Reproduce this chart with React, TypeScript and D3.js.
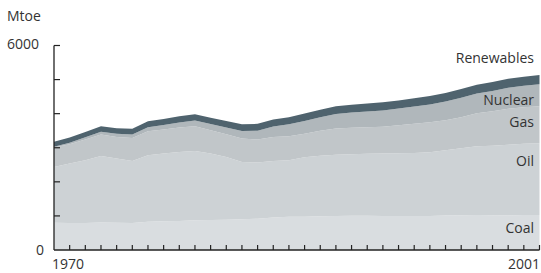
import React from "react";
import * as d3 from "d3";

const years = d3.range(1970, 2002);
const coal = [800, 795, 790, 805, 800, 795, 830, 840, 850, 870, 880, 890, 900, 920, 950, 975, 975, 990, 1000, 1005, 1005, 1000, 995, 995, 1000, 1010, 1020, 1025, 1020, 1010, 1030, 1025];
const oil = [1638, 1742, 1844, 1955, 1884, 1818, 1950, 1990, 2027, 2036, 1950, 1840, 1684, 1647, 1663, 1659, 1747, 1776, 1795, 1805, 1819, 1830, 1844, 1853, 1868, 1917, 1965, 2019, 2038, 2078, 2087, 2106];
const gas = [568, 565, 606, 626, 632, 674, 703, 702, 714, 723, 682, 665, 685, 673, 703, 702, 690, 730, 770, 775, 776, 784, 819, 854, 878, 878, 907, 965, 1010, 1053, 1068, 1083];
const nuclear = [20, 43, 65, 82, 94, 105, 121, 137, 153, 169, 185, 200, 226, 261, 306, 350, 375, 400, 425, 450, 465, 482, 490, 507, 524, 550, 577, 585, 600, 617, 634, 650];
const renewables = [150, 155, 160, 162, 164, 165, 170, 174, 178, 182, 185, 190, 195, 200, 205, 210, 215, 220, 225, 230, 235, 238, 241, 244, 247, 250, 253, 255, 260, 263, 266, 270];

const seriesNames = ["Coal", "Oil", "Gas", "Nuclear", "Renewables"];
const seriesValues = [coal, oil, gas, nuclear, renewables];
const colors = ["#d9dde0", "#cdd2d5", "#c1c6c9", "#b0b7bb", "#4f636e"];
const yTicks = [0, 1000, 2000, 3000, 4000, 5000, 6000];
const labelY = [233, 166, 127, 105, 63];

export default function App() {
  const W = 541, H = 273;
  const x = d3.scaleLinear().domain([1970, 2001]).range([54, 539.5]);
  const y = d3.scaleLinear().domain([0, 6000]).range([250, 45.5]);

  const rows = years.map((yr, i) => {
    const r: any = { year: yr };
    seriesNames.forEach((n, j) => (r[n] = seriesValues[j][i]));
    return r;
  });
  const stacked = d3.stack().keys(seriesNames)(rows);
  const area = d3
    .area<any>()
    .x((d) => x(d.data.year))
    .y0((d) => y(d[0]))
    .y1((d) => y(d[1]));

  const font = "'Open Sans', sans-serif";
  const txt = "#333";
  const fs = 14;

  return (
    <svg width={W} height={H} style={{ position: "absolute", left: 0, top: 0 }}>
      <rect width={W} height={H} fill="#fff" />
      {stacked.map((s, i) => (
        <path key={s.key} d={area(s) || ""} fill={colors[i]} />
      ))}
      <line x1={54} x2={54} y1={45.5} y2={250} stroke="#222" strokeWidth={1.3} />
      <line x1={54} x2={539.5} y1={250} y2={250} stroke="#222" strokeWidth={1.3} />
      {yTicks.slice(1).map((t) => (
        <line key={t} x1={54} x2={60} y1={y(t)} y2={y(t)} stroke="#222" strokeWidth={1.2} />
      ))}
      {years.slice(1).map((yr) => (
        <line key={yr} x1={x(yr)} x2={x(yr)} y1={250} y2={245} stroke="#222" strokeWidth={1.2} />
      ))}
      <text x={7} y={21} fontFamily={font} fontSize={fs} fill={txt}>Mtoe</text>
      <text x={7} y={48.5} fontFamily={font} fontSize={fs} fill={txt}>6000</text>
      <text x={44} y={254.5} fontFamily={font} fontSize={fs} fill={txt} textAnchor="end">0</text>
      <text x={52} y={268.5} fontFamily={font} fontSize={fs} fill={txt}>1970</text>
      <text x={540} y={268.5} fontFamily={font} fontSize={fs} fill={txt} textAnchor="end">2001</text>
      {seriesNames.map((n, i) => (
        <text key={n} x={534} y={labelY[i]} fontFamily={font} fontSize={fs} fill={txt} textAnchor="end">
          {n}
        </text>
      ))}
    </svg>
  );
}
